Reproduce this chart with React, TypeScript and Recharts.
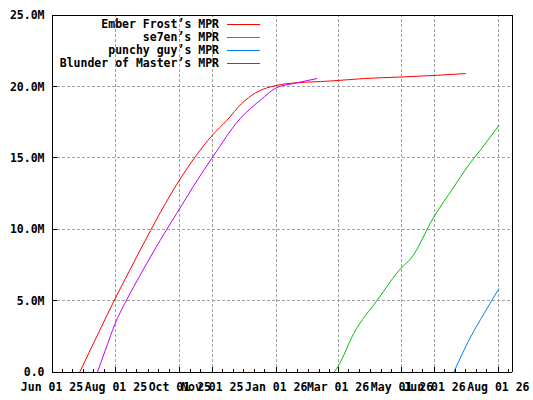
import React from 'react';
import { LineChart, Line, XAxis, YAxis, CartesianGrid, ReferenceLine, Legend } from 'recharts';

const FONT = '"DejaVu Sans Mono", "Liberation Mono", monospace';

// x values are days since Jun 01 2025
const monthStarts = [0, 30, 61, 92, 122, 153, 183, 214, 245, 273, 304, 334, 365, 395, 426];
const majorTicks = [0, 61, 122, 153, 214, 273, 334, 365, 426];
const majorLabels = ['Jun 01 25', 'Aug 01 25', 'Oct 01 25', 'Nov 01 25', 'Jan 01 26', 'Mar 01 26', 'May 01 26', 'Jun 01 26', 'Aug 01 26'];
const xEnd = 439;

// y values in millions
const yTicks = [0, 5, 10, 15, 20, 25];
const yLabels = ['0.0', '5.0M', '10.0M', '15.0M', '20.0M', '25.0M'];

const emberDays = [26.5, 42.5, 59, 74, 94, 113, 135, 153, 167, 181, 194, 215, 231, 256, 266, 298, 334, 368, 395];
const emberValues = [0, 2.45, 4.95, 7.1, 9.9, 12.4, 14.9, 16.58, 17.63, 18.8, 19.54, 20.08, 20.24, 20.34, 20.38, 20.55, 20.66, 20.78, 20.9];

const se7enDays = [269.4, 273.6, 287.9, 310.3, 334.2, 342, 364.4, 383.5, 396.4, 412.3, 426.6];
const se7enValues = [0, 0.47, 2.69, 5.02, 7.35, 7.9, 10.85, 12.96, 14.36, 15.87, 17.28];

const punchyDays = [383.5, 399.5, 412.3, 426.6];
const punchyValues = [0, 2.45, 4.09, 5.84];

const blunderDays = [43.4, 52, 60, 72.7, 83.9, 109.4, 119, 134.9, 153.4, 179.5, 198.7, 214.6, 230.5, 253];
const blunderValues = [0, 1.75, 3.35, 5.25, 6.75, 9.97, 11.1, 13.0, 15.06, 17.74, 19.03, 19.92, 20.2, 20.55];

const toPoints = (days: number[], values: number[]) => days.map((d, i) => ({ day: d, v: values[i] }));

const series = [
  { name: 'Ember Frost’s MPR', color: '#ff0000', data: toPoints(emberDays, emberValues) },
  { name: 'se7en’s MPR', color: '#00c000', data: toPoints(se7enDays, se7enValues) },
  { name: 'punchy guy’s MPR', color: '#0080ff', data: toPoints(punchyDays, punchyValues) },
  { name: 'Blunder of Master’s MPR', color: '#c000ff', data: toPoints(blunderDays, blunderValues) },
];

// ticks on the 1st, 11th and 21st of each month
const allXTicks = monthStarts
  .flatMap((m) => [m, m + 10, m + 20])
  .filter((d) => d <= xEnd);

const textStyle = { fontFamily: FONT, fontSize: 11.5, fontWeight: 'bold' as const, fill: '#000' };

const XTick = ({ x, y, payload }: any) => {
  const idx = majorTicks.indexOf(payload.value);
  const major = idx >= 0;
  return (
    <g>
      <line x1={x} x2={x} y1={y} y2={y - (major ? 5 : 3)} stroke="#000" shapeRendering="crispEdges" />
      {major && (
        <text x={x} y={y + 19} textAnchor="middle" {...textStyle}>
          {majorLabels[idx]}
        </text>
      )}
    </g>
  );
};

const YTick = ({ x, y, payload }: any) => (
  <g>
    <line x1={x} x2={x + 5} y1={y} y2={y} stroke="#000" shapeRendering="crispEdges" />
    <text x={x - 7.5} y={y + 4.2} textAnchor="end" {...textStyle}>
      {yLabels[yTicks.indexOf(payload.value)]}
    </text>
  </g>
);

const RightTick = ({ x, y }: any) => (
  <line x1={x} x2={x - 5} y1={y} y2={y} stroke="#000" shapeRendering="crispEdges" />
);

const renderLegend = () => (
  <div style={{ position: 'relative', width: 270, height: 80, fontFamily: FONT, fontSize: 11.5, fontWeight: 'bold', color: '#000' }}>
    {series.map((s, i) => (
      <div key={s.name} style={{ position: 'absolute', top: 18 + i * 13, left: 0, width: 270, height: 13, lineHeight: '13px' }}>
        <span style={{ position: 'absolute', right: 51, top: 0, whiteSpace: 'pre' }}>{s.name}</span>
        <span style={{ position: 'absolute', left: 227, top: 6, width: 33, height: 1, background: s.color }} />
      </div>
    ))}
  </div>
);

const App = () => (
  <div style={{ position: 'absolute', top: 0, left: 0, width: 533, height: 400, background: '#fff' }}>
    <style>{`.recharts-cartesian-axis-line, .recharts-cartesian-grid line, .recharts-reference-line-line { shape-rendering: crispEdges; }`}</style>
    <LineChart width={533} height={400} margin={{ top: 15, right: 20, left: 0, bottom: 0 }}>
      <CartesianGrid vertical={false} stroke="#a0a0a0" strokeDasharray="3 2" />
      {majorTicks.slice(1).map((d) => (
        <ReferenceLine key={d} x={d} stroke="#a0a0a0" strokeDasharray="3 2" />
      ))}
      <XAxis
        dataKey="day"
        type="number"
        domain={[0, xEnd]}
        ticks={allXTicks}
        interval={0}
        height={28}
        tickSize={0}
        tickMargin={0}
        tickLine={false}
        axisLine={{ stroke: '#000' }}
        tick={<XTick />}
        allowDataOverflow
      />
      <YAxis
        type="number"
        domain={[0, 25]}
        ticks={yTicks}
        interval={0}
        width={52}
        tickSize={0}
        tickMargin={0}
        tickLine={false}
        axisLine={{ stroke: '#000' }}
        tick={<YTick />}
      />
      <YAxis
        yAxisId="right"
        orientation="right"
        type="number"
        domain={[0, 25]}
        ticks={yTicks}
        interval={0}
        width={1}
        tickSize={0}
        tickMargin={0}
        tickLine={false}
        axisLine={{ stroke: '#000' }}
        tick={<RightTick />}
      />
      <ReferenceLine y={25} stroke="#000" />
      <Legend
        layout="horizontal"
        verticalAlign="middle"
        align="center"
        content={renderLegend}
        wrapperStyle={{ top: 0, left: 0, width: 270, height: 80 }}
      />
      {series.map((s) => (
        <Line
          key={s.name}
          data={s.data}
          dataKey="v"
          name={s.name}
          type="monotone"
          stroke={s.color}
          strokeWidth={1}
          dot={false}
          activeDot={false}
          isAnimationActive={false}
        />
      ))}
    </LineChart>
  </div>
);

export default App;
